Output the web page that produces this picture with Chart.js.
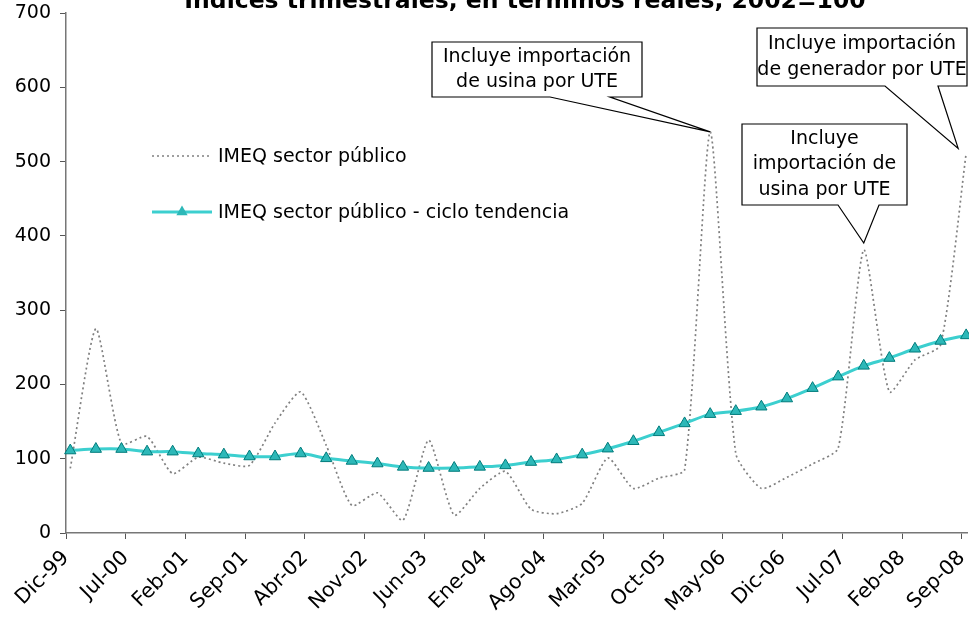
<!DOCTYPE html>
<html>
<head>
<meta charset="utf-8">
<script src="https://cdn.jsdelivr.net/npm/chart.js@4.4.1/dist/chart.umd.min.js"></script>
<style>
  html, body { margin: 0; padding: 0; background: #fff; }
</style>
</head>
<body>
<canvas id="grafico" width="969" height="624"></canvas>
<script>
// Índices IMEQ sector público, trimestrales (2002=100)

const titulo = 'Índices trimestrales, en términos reales, 2002=100';

const trimestres = [
  'Dic-99', 'Mar-00', 'Jun-00', 'Sep-00', 'Dic-00', 'Mar-01', 'Jun-01', 'Sep-01', 'Dic-01',
  'Mar-02', 'Jun-02', 'Sep-02', 'Dic-02', 'Mar-03', 'Jun-03', 'Sep-03', 'Dic-03',
  'Mar-04', 'Jun-04', 'Sep-04', 'Dic-04', 'Mar-05', 'Jun-05', 'Sep-05', 'Dic-05',
  'Mar-06', 'Jun-06', 'Sep-06', 'Dic-06', 'Mar-07', 'Jun-07', 'Sep-07', 'Dic-07',
  'Mar-08', 'Jun-08', 'Sep-08'
];

const imeqPublico = [
  87, 275, 120, 130, 80, 102, 94, 91, 148, 190, 118, 37, 54, 17, 125, 24, 60,
  83, 32, 26, 40, 101, 60, 74, 85, 540, 107, 60, 75, 93, 114, 381, 190, 233, 253, 511
];

const imeqTendencia = [
  111, 113, 113, 109.5, 109.5, 107, 105.5, 103, 103, 107, 100.5, 97, 93.5, 89, 87.5, 87.5, 89,
  91, 95.5, 99, 105.5, 113.5, 123.5, 135.5, 147.5, 160, 164, 170, 181, 195, 210.5, 225, 235.5,
  248, 258.5, 266
];

// etiquetas del eje x, una cada 7 meses desde Dic-99
const etiquetasEje = [
  'Dic-99', 'Jul-00', 'Feb-01', 'Sep-01', 'Abr-02', 'Nov-02', 'Jun-03', 'Ene-04',
  'Ago-04', 'Mar-05', 'Oct-05', 'May-06', 'Dic-06', 'Jul-07', 'Feb-08', 'Sep-08'
];

const valoresY = [0, 100, 200, 300, 400, 500, 600, 700];

// notas sobre los picos
const llamadas = [
  { lineas: ['Incluye importación', 'de usina por UTE'], serie: 0, trimestre: 'Mar-06',
    caja: [432, 42, 642, 97], base: [550, 610], ajuste: [0, 0] },
  { lineas: ['Incluye importación', 'de generador por UTE'], serie: 0, trimestre: 'Sep-08',
    caja: [757, 28, 967, 86], base: [885, 938], ajuste: [-8, -5] },
  { lineas: ['Incluye', 'importación de', 'usina por UTE'], serie: 0, trimestre: 'Sep-07',
    caja: [742, 124, 907, 205], base: [838, 879], ajuste: [0, -7] }
];

const fuente = '"DejaVu Sans", sans-serif';
Chart.defaults.font.family = fuente;
Chart.defaults.color = '#000';

// bordes del área de datos (el eje x sigue hasta el borde de la imagen)
const bordeDerecho = 967;
const bordeSuperior = 13;

// cada trimestre se ubica a mitad de su mes en un eje mensual
const aPuntos = (valores) => valores.map((v, i) => ({ x: i * 3 + 0.5, y: v }));

const pluginArea = {
  id: 'areaFija',
  afterLayout(chart) {
    const sx = chart.scales.x, sy = chart.scales.y;
    sx.right = bordeDerecho;
    sx.width = sx.right - sx.left;
    sx.configure();
    sy.top = bordeSuperior;
    sy.height = sy.bottom - sy.top;
    sy.configure();
    const a = chart.chartArea;
    a.right = bordeDerecho;
    a.top = bordeSuperior;
    a.width = a.right - a.left;
    a.height = a.bottom - a.top;
  }
};

const pluginTitulo = {
  id: 'titulo',
  afterDraw(chart) {
    const ctx = chart.ctx;
    ctx.save();
    ctx.font = 'bold 23.5px ' + fuente;
    ctx.fillStyle = '#000';
    ctx.textAlign = 'center';
    ctx.textBaseline = 'alphabetic';
    ctx.fillText(titulo, 525, 8);
    ctx.restore();
  }
};

const pluginLeyenda = {
  id: 'leyendaInterna',
  afterDraw(chart) {
    const ctx = chart.ctx;
    const filas = [156, 212];
    ctx.save();
    chart.data.datasets.forEach((ds, i) => {
      const y = filas[i];
      ctx.strokeStyle = ds.borderColor;
      ctx.lineWidth = ds.borderWidth;
      ctx.setLineDash(ds.borderDash || []);
      ctx.beginPath();
      ctx.moveTo(152, y);
      ctx.lineTo(212, y);
      ctx.stroke();
      ctx.setLineDash([]);
      if (ds.pointRadius > 0) {
        ctx.fillStyle = ds.pointBackgroundColor;
        ctx.strokeStyle = ds.pointBorderColor;
        ctx.lineWidth = ds.pointBorderWidth;
        Chart.helpers.drawPoint(ctx, { pointStyle: ds.pointStyle, radius: ds.pointRadius, rotation: 0 }, 182, y);
      }
      ctx.fillStyle = '#000';
      ctx.font = '19px ' + fuente;
      ctx.textAlign = 'left';
      ctx.textBaseline = 'middle';
      ctx.fillText(ds.label, 218, y + 1);
    });
    ctx.restore();
  }
};

const pluginLlamadas = {
  id: 'llamadas',
  afterDraw(chart) {
    const ctx = chart.ctx;
    const sx = chart.scales.x, sy = chart.scales.y;
    ctx.save();
    llamadas.forEach(ll => {
      const i = trimestres.indexOf(ll.trimestre);
      const punto = aPuntos(imeqPublico)[i];
      const px = sx.getPixelForValue(punto.x) + ll.ajuste[0];
      const py = sy.getPixelForValue(punto.y) + ll.ajuste[1];
      const [x1, y1, x2, y2] = ll.caja;
      ctx.beginPath();
      ctx.moveTo(x1, y1);
      ctx.lineTo(x2, y1);
      ctx.lineTo(x2, y2);
      ctx.lineTo(ll.base[1], y2);
      ctx.lineTo(px, py);
      ctx.lineTo(ll.base[0], y2);
      ctx.lineTo(x1, y2);
      ctx.closePath();
      ctx.fillStyle = '#fff';
      ctx.fill();
      ctx.strokeStyle = '#000';
      ctx.lineWidth = 1.2;
      ctx.stroke();
      ctx.fillStyle = '#000';
      ctx.font = '19px ' + fuente;
      ctx.textAlign = 'center';
      ctx.textBaseline = 'middle';
      const alto = 25.5;
      const cy = (y1 + y2) / 2 - (ll.lineas.length - 1) * alto / 2;
      ll.lineas.forEach((t, k) => ctx.fillText(t, (x1 + x2) / 2, cy + k * alto));
    });
    ctx.restore();
  }
};

new Chart(document.getElementById('grafico'), {
  type: 'line',
  data: {
    datasets: [
      {
        label: 'IMEQ sector público',
        data: aPuntos(imeqPublico),
        borderColor: '#808080',
        borderWidth: 1.7,
        borderDash: [2, 3],
        pointRadius: 0,
        tension: 0.2,
        clip: false,
        order: 1
      },
      {
        label: 'IMEQ sector público - ciclo tendencia',
        data: aPuntos(imeqTendencia),
        borderColor: '#3ccfcf',
        borderWidth: 3,
        pointStyle: 'triangle',
        pointRadius: 6.5,
        pointBackgroundColor: '#2db8b8',
        pointBorderColor: '#007b7b',
        pointBorderWidth: 1,
        tension: 0.3,
        clip: false,
        order: 0
      }
    ]
  },
  options: {
    responsive: false,
    animation: false,
    layout: { padding: { top: 13, right: 2, left: 0, bottom: 0 } },
    plugins: {
      legend: { display: false },
      tooltip: { enabled: false }
    },
    scales: {
      x: {
        type: 'linear',
        min: 0,
        max: 105.6,
        afterBuildTicks: (s) => { s.ticks = etiquetasEje.map((_, k) => ({ value: k * 7 })); },
        afterFit: (s) => { s.height = 91; },
        ticks: {
          callback: (v) => etiquetasEje[Math.round(v / 7)],
          minRotation: 45,
          maxRotation: 45,
          autoSkip: false,
          font: { size: 20.5 },
          color: '#000',
          padding: 7
        },
        grid: { drawOnChartArea: false, drawTicks: true, tickLength: 6, color: '#555' },
        border: { color: '#777', width: 1.5 }
      },
      y: {
        min: 0,
        max: 700,
        afterBuildTicks: (s) => { s.ticks = valoresY.map(v => ({ value: v })); },
        afterFit: (s) => { s.width = 66; },
        ticks: { font: { size: 19 }, color: '#000', padding: 9 },
        grid: { drawOnChartArea: false, drawTicks: true, tickLength: 6, color: '#555' },
        border: { color: '#777', width: 1.5 }
      }
    }
  },
  plugins: [pluginArea, pluginTitulo, pluginLeyenda, pluginLlamadas]
});
</script>
</body>
</html>
